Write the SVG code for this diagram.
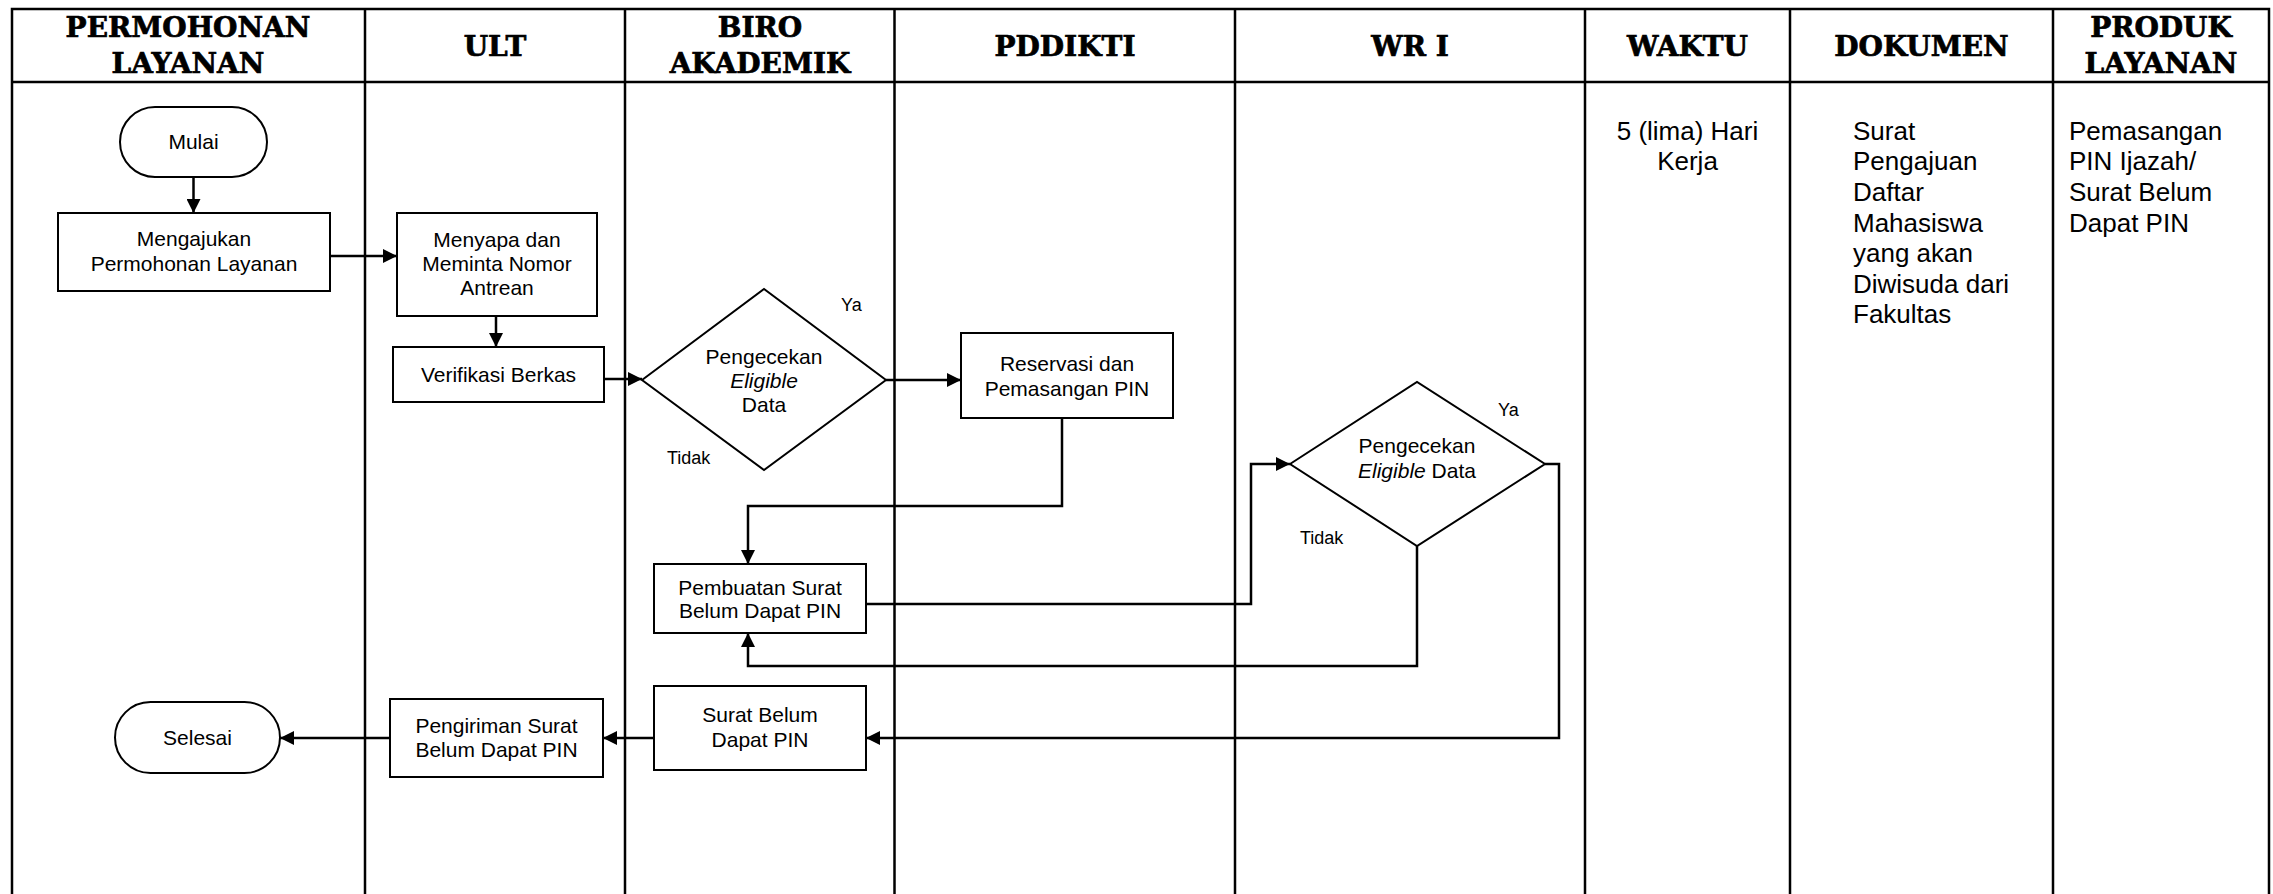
<svg xmlns="http://www.w3.org/2000/svg" width="2273" height="894" viewBox="0 0 2273 894">
<style>
.hdr{font-family:"DejaVu Serif","Liberation Serif",serif;font-weight:bold;font-size:28px;text-anchor:middle;fill:#000;stroke:#000;stroke-width:0.7}
.t{font-family:"Liberation Sans",Arial,sans-serif;font-size:21px;text-anchor:middle;fill:#000}
.lbl{font-family:"Liberation Sans",Arial,sans-serif;font-size:18px;fill:#000}
.col{font-family:"Liberation Sans",Arial,sans-serif;font-size:26px;fill:#000}
.grid{stroke:#000;stroke-width:2.5;fill:none}
.box{fill:#fff;stroke:#000;stroke-width:2}
.con{fill:none;stroke:#000;stroke-width:2.5}
</style>
<defs>
<marker id="arr" viewBox="0 0 10 10" refX="10" refY="5" markerWidth="17" markerHeight="14" markerUnits="userSpaceOnUse" orient="auto">
<path d="M0,0 L10,5 L0,10 z" fill="#000"/>
</marker>
</defs>
<rect width="2273" height="894" fill="#fff"/>
<g id="grid">
<path class="grid" d="M12,894 V9 H2269 V894 M12,82 H2269 M365,9 V894 M625,9 V894 M894.5,9 V894 M1235,9 V894 M1585,9 V894 M1790,9 V894 M2053,9 V894"/>
</g>
<g id="headers">
<text class="hdr" x="188" y="37">PERMOHONAN</text>
<text class="hdr" x="188" y="73">LAYANAN</text>
<text class="hdr" x="495" y="56">ULT</text>
<text class="hdr" x="760" y="37">BIRO</text>
<text class="hdr" x="760" y="73">AKADEMIK</text>
<text class="hdr" x="1065" y="56">PDDIKTI</text>
<text class="hdr" x="1410" y="56">WR I</text>
<text class="hdr" x="1687.5" y="56">WAKTU</text>
<text class="hdr" x="1921.5" y="56">DOKUMEN</text>
<text class="hdr" x="2161" y="37">PRODUK</text>
<text class="hdr" x="2161" y="73">LAYANAN</text>
</g>
<g id="connectors">
<path class="con" d="M193.5,177 V213" marker-end="url(#arr)"/>
<path class="con" d="M330,256 H397" marker-end="url(#arr)"/>
<path class="con" d="M496,316 V347" marker-end="url(#arr)"/>
<path class="con" d="M604,379 H642" marker-end="url(#arr)"/>
<path class="con" d="M886,380 H961" marker-end="url(#arr)"/>
<path class="con" d="M1062,418 V506 H748 V564" marker-end="url(#arr)"/>
<path class="con" d="M866,604 H1251 V464 H1290" marker-end="url(#arr)"/>
<path class="con" d="M1417,546 V666 H748 V633" marker-end="url(#arr)"/>
<path class="con" d="M1545,464 H1559 V738 H866" marker-end="url(#arr)"/>
<path class="con" d="M654,738 H603" marker-end="url(#arr)"/>
<path class="con" d="M390,738 H280" marker-end="url(#arr)"/>
</g>
<g id="mulai">
<rect class="box" x="120" y="107" width="147" height="70" rx="35" ry="35"/>
<text class="t" x="193.5" y="149">Mulai</text>
</g>
<g id="mengajukan">
<rect class="box" x="58" y="213" width="272" height="78"/>
<text class="t" x="194" y="246">Mengajukan</text>
<text class="t" x="194" y="271">Permohonan Layanan</text>
</g>
<g id="menyapa">
<rect class="box" x="397" y="213" width="200" height="103"/>
<text class="t" x="497" y="247">Menyapa dan</text>
<text class="t" x="497" y="271">Meminta Nomor</text>
<text class="t" x="497" y="295">Antrean</text>
</g>
<g id="verifikasi">
<rect class="box" x="393" y="347" width="211" height="55"/>
<text class="t" x="498.5" y="382">Verifikasi Berkas</text>
</g>
<g id="cek1">
<polygon class="box" points="642,380 764,289 886,380 764,470"/>
<text class="t" x="764" y="364">Pengecekan</text>
<text class="t" x="764" y="388" font-style="italic">Eligible</text>
<text class="t" x="764" y="412">Data</text>
<text class="lbl" x="841" y="311">Ya</text>
<text class="lbl" x="667" y="464">Tidak</text>
</g>
<g id="reservasi">
<rect class="box" x="961" y="333" width="212" height="85"/>
<text class="t" x="1067" y="371">Reservasi dan</text>
<text class="t" x="1067" y="396">Pemasangan PIN</text>
</g>
<g id="pembuatan">
<rect class="box" x="654" y="564" width="212" height="69"/>
<text class="t" x="760" y="595">Pembuatan Surat</text>
<text class="t" x="760" y="618">Belum Dapat PIN</text>
</g>
<g id="cek2">
<polygon class="box" points="1290,464 1417,382 1545,464 1417,546"/>
<text class="t" x="1417" y="453">Pengecekan</text>
<text class="t" x="1417" y="478"><tspan font-style="italic">Eligible</tspan> Data</text>
<text class="lbl" x="1498" y="416">Ya</text>
<text class="lbl" x="1300" y="544">Tidak</text>
</g>
<g id="suratbelum">
<rect class="box" x="654" y="686" width="212" height="84"/>
<text class="t" x="760" y="722">Surat Belum</text>
<text class="t" x="760" y="747">Dapat PIN</text>
</g>
<g id="pengiriman">
<rect class="box" x="390" y="699" width="213" height="78"/>
<text class="t" x="496.5" y="733">Pengiriman Surat</text>
<text class="t" x="496.5" y="757">Belum Dapat PIN</text>
</g>
<g id="selesai">
<rect class="box" x="115" y="702" width="165" height="71" rx="35.5" ry="35.5"/>
<text class="t" x="197.5" y="745">Selesai</text>
</g>
<g id="waktu">
<text class="col" x="1687.5" y="140" text-anchor="middle">5 (lima) Hari</text>
<text class="col" x="1687.5" y="170" text-anchor="middle">Kerja</text>
</g>
<g id="dokumen">
<text class="col" x="1853" y="140">Surat</text>
<text class="col" x="1853" y="170">Pengajuan</text>
<text class="col" x="1853" y="201">Daftar</text>
<text class="col" x="1853" y="232">Mahasiswa</text>
<text class="col" x="1853" y="262">yang akan</text>
<text class="col" x="1853" y="293">Diwisuda dari</text>
<text class="col" x="1853" y="323">Fakultas</text>
</g>
<g id="produk">
<text class="col" x="2069" y="140">Pemasangan</text>
<text class="col" x="2069" y="170">PIN Ijazah/</text>
<text class="col" x="2069" y="201">Surat Belum</text>
<text class="col" x="2069" y="232">Dapat PIN</text>
</g>
</svg>
